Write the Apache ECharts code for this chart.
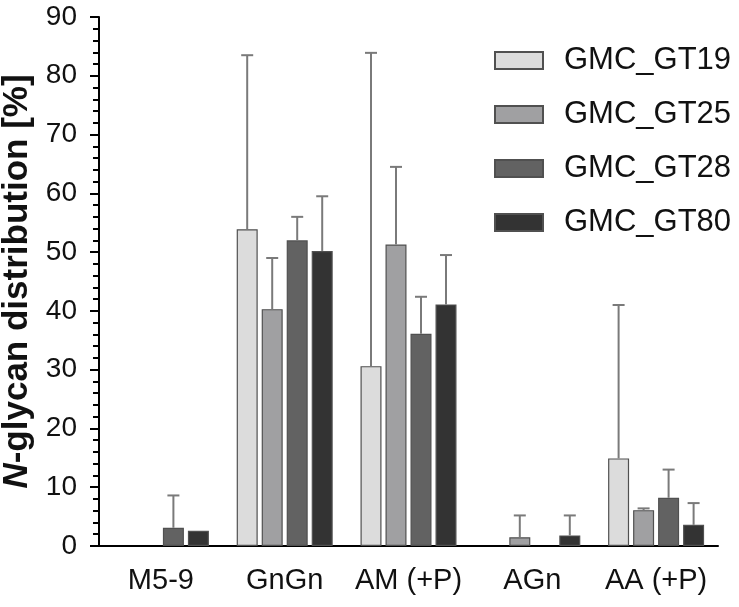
<!DOCTYPE html>
<html>
<head>
<meta charset="utf-8">
<script src="https://cdn.jsdelivr.net/npm/echarts@6/dist/echarts.min.js"></script>
<style>html,body{margin:0;padding:0;background:#fff}#c{width:739px;height:607px}</style>
</head>
<body>
<div id="c"></div>
<script>
const categories = ['M5-9', 'GnGn', 'AM (+P)', 'AGn', 'AA (+P)'];
const seriesNames = ['GMC_GT19', 'GMC_GT25', 'GMC_GT28', 'GMC_GT80'];
const gt19 = [0, 53.9, 30.6, 0, 14.9];
const gt25 = [0, 40.3, 51.3, 1.5, 6.1];
const gt28 = [3.1, 52.0, 36.1, 0, 8.2];
const gt80 = [2.6, 50.2, 41.1, 1.8, 3.6];
const gt19Err = [0, 29.6, 53.3, 0, 26.1];
const gt25Err = [0, 8.7, 13.2, 3.7, 0.3];
const gt28Err = [5.5, 4.0, 6.3, 0, 4.8];
const gt80Err = [0, 9.3, 8.4, 3.4, 3.7];
const colors = ['#dcdcdc', '#a0a0a2', '#626262', '#333333'];

const values = [gt19, gt25, gt28, gt80];
const errors = [gt19Err, gt25Err, gt28Err, gt80Err];
const BAR_W = 21, GAP = 4;
const FONT = 'Liberation Sans, Arial, sans-serif';

const series = [];
values.forEach((vals, i) => {
  series.push({
    name: seriesNames[i],
    type: 'bar',
    barWidth: BAR_W,
    barGap: (GAP / BAR_W * 100) + '%',
    data: vals.map(v => v === 0 ? '-' : v),
    itemStyle: { color: colors[i], borderColor: '#505050', borderWidth: 1.2 },
    z: 2
  });
});
values.forEach((vals, i) => {
  const offset = (i - 1.5) * (BAR_W + GAP);
  series.push({
    type: 'custom',
    name: seriesNames[i] + ' err',
    z: 3,
    silent: true,
    data: vals.map((v, k) => [k, v, errors[i][k]]),
    renderItem: function (params, api) {
      const err = api.value(2);
      if (!(err > 0)) return null;
      const c = api.value(0), v = api.value(1);
      const base = api.coord([c, v]);
      const top = api.coord([c, v + err]);
      const x = base[0] + offset;
      const style = { stroke: '#7a7a7a', lineWidth: 2 };
      return {
        type: 'group',
        children: [
          { type: 'line', shape: { x1: x, y1: base[1], x2: x, y2: top[1] }, style: style },
          { type: 'line', shape: { x1: x - 6, y1: top[1], x2: x + 6, y2: top[1] }, style: style }
        ]
      };
    }
  });
});

const chart = echarts.init(document.getElementById('c'), null, { renderer: 'canvas' });
chart.setOption({
  animation: false,
  backgroundColor: '#ffffff',
  grid: { left: 99, right: 21, top: 17, bottom: 61, containLabel: false, outerBoundsMode: 'none' },
  legend: {
    data: seriesNames,
    orient: 'vertical',
    left: 489,
    top: 40,
    itemWidth: 48,
    itemHeight: 17,
    itemGap: 23,
    icon: 'rect',
    textStyle: { fontFamily: FONT, fontSize: 31, color: '#111', padding: [0, 0, 0, 16] }
  },
  xAxis: {
    type: 'category',
    data: categories,
    axisLine: { lineStyle: { color: '#000', width: 2 } },
    axisTick: { alignWithLabel: true, interval: 0, length: 12, lineStyle: { color: '#000', width: 2 } },
    axisLabel: { interval: 0, fontFamily: FONT, fontSize: 29, color: '#111', margin: 20 }
  },
  yAxis: {
    type: 'value',
    min: 0, max: 90, interval: 10,
    name: '{i|N}-glycan distribution [%]',
    nameLocation: 'middle',
    nameGap: 63,
    nameRotate: 90,
    nameTextStyle: {
      fontFamily: FONT, fontSize: 35, fontWeight: 'bold', color: '#111',
      rich: { i: { fontFamily: FONT, fontSize: 35, fontWeight: 'bold', fontStyle: 'italic', color: '#111' } }
    },
    splitLine: { show: false },
    axisLine: { show: true, lineStyle: { color: '#000', width: 2 } },
    axisTick: { show: true, length: 9, lineStyle: { color: '#000', width: 2 } },
    minorTick: { show: true, splitNumber: 5, length: 6, lineStyle: { color: '#000', width: 2 } },
    axisLabel: { fontFamily: FONT, fontSize: 28, color: '#111', margin: 22 }
  },
  series: series
});
</script>
</body>
</html>
